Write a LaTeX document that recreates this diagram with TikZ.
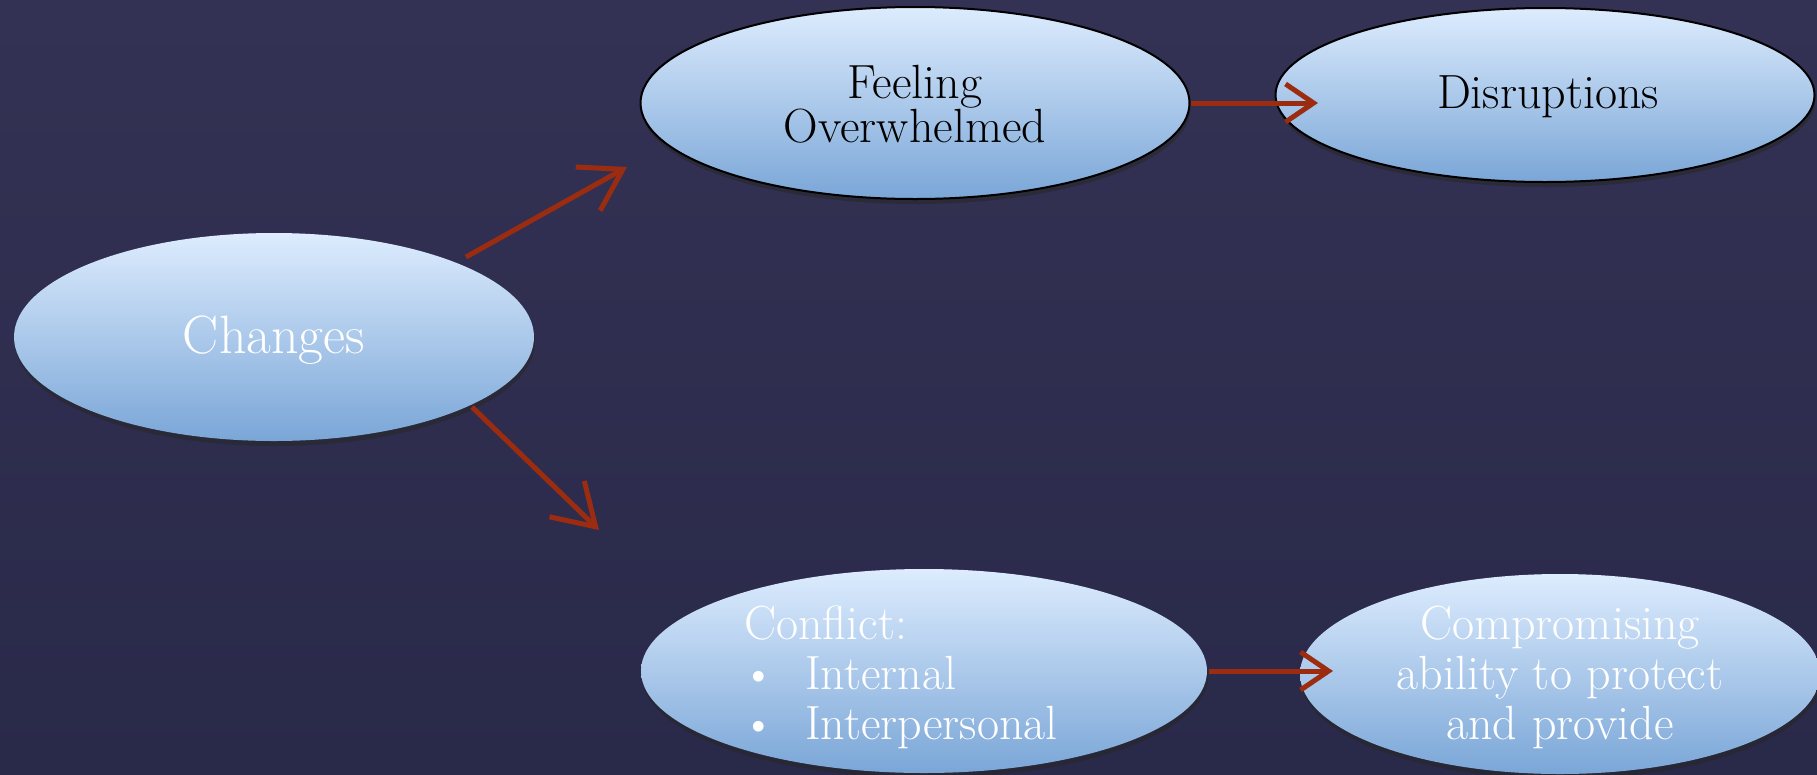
\documentclass[tikz,border=0pt]{standalone}
\usetikzlibrary{shapes.geometric,arrows.meta,shadows}
\definecolor{bgtop}{RGB}{52,50,84}
\definecolor{bgbot}{RGB}{41,41,74}
\definecolor{elltop}{RGB}{221,236,254}
\definecolor{ellbot}{RGB}{122,166,215}
\definecolor{arrred}{RGB}{155,44,16}
\tikzset{
  blob/.style={ellipse, inner sep=0pt, top color=elltop, bottom color=ellbot,
    drop shadow={shadow xshift=1pt, shadow yshift=-5pt, opacity=0.55, fill=black!85}},
  outlined/.style={draw=black, line width=2pt},
  lbl/.style={font=\fontsize{48}{50}\selectfont, align=center, inner sep=0pt},
  arrdiag/.style={draw=arrred, line width=5pt, -{Straight Barb[length=40pt,width=50pt]}},
  arrhor/.style={draw=arrred, line width=5pt, -{Straight Barb[length=28pt,width=38pt]}}
}
\begin{document}
\begin{tikzpicture}[x=1pt,y=-1pt]
\useasboundingbox (0,0) rectangle (1817,774);
\clip (0,0) rectangle (1817,774);
\shade[top color=bgtop, bottom color=bgbot] (0,0) rectangle (1817,774);
% ellipses
\node[blob, minimum width=520pt, minimum height=208pt] (ch) at (274,337) {};
\node[blob, outlined, minimum width=549pt, minimum height=192pt] (fo) at (915,103) {};
\node[blob, outlined, minimum width=539pt, minimum height=174pt] (ds) at (1545,95) {};
\node[blob, minimum width=566pt, minimum height=204pt] (cf) at (924,671) {};
\node[blob, minimum width=520pt, minimum height=200pt] (cp) at (1560,674) {};
% texts
\node[lbl, white, font=\fontsize{54}{56}\selectfont] (chT) at (274,340) {Changes};
\node[lbl, black, font=\fontsize{48}{44}\selectfont] (foT) at (915,104) {Feeling\\Overwhelmed};
\node[lbl, black] (dsT) at (1548,97) {Disruptions};
\node[lbl, white, align=left, anchor=north west] (cfT) at (744,606)
  {Conflict:\\\makebox[61pt][l]{\hspace*{-3pt}\textbullet}Internal\\\makebox[61pt][l]{\hspace*{-3pt}\textbullet}Interpersonal};
\node[lbl, white] (cpT) at (1560,677) {Compromising\\ability to protect\\and provide};
% arrow ends
\coordinate (a1s) at (466,257); \coordinate (a1e) at (627,167);
\coordinate (a2s) at (472,407); \coordinate (a2e) at (599,530);
\coordinate (a3s) at (1191,103); \coordinate (a3e) at (1318,103);
\coordinate (a4s) at (1209,671); \coordinate (a4e) at (1333,671);
\draw[arrdiag] (a1s) -- (a1e);
\draw[arrdiag] (a2s) -- (a2e);
\draw[arrhor] (a3s) -- (a3e);
\draw[arrhor] (a4s) -- (a4e);
\end{tikzpicture}
\end{document}
